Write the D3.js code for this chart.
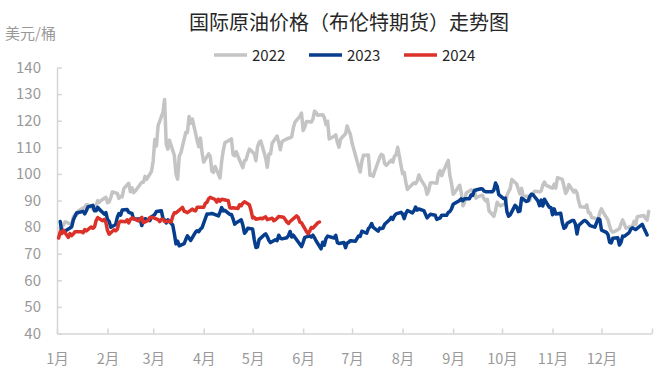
<!DOCTYPE html>
<html>
<head>
<meta charset="utf-8">
<script src="https://cdn.jsdelivr.net/npm/d3@7"></script>
<style>
  html, body { margin: 0; padding: 0; background: #fff; }
  svg { display: block; font-family: "Noto Sans CJK SC", "Microsoft YaHei", sans-serif; }
</style>
</head>
<body>
<svg id="chart" width="666" height="379"></svg>
<script>
// ---------------- DATA ----------------
const title = "国际原油价格（布伦特期货）走势图";
const unitLabel = "美元/桶";
const monthLabels = ["1月","2月","3月","4月","5月","6月","7月","8月","9月","10月","11月","12月"];
const yTicks = [40,50,60,70,80,90,100,110,120,130,140];
const seriesNames = ["2022","2023","2024"];
const seriesColors = ["#c4c4c4","#063d8c","#dc3128"];

const brent2022 = [
["01-03",78.98],["01-04",80.0],["01-05",80.8],["01-06",81.99],["01-07",81.75],["01-10",80.87],["01-11",83.72],["01-12",84.67],["01-13",84.47],["01-14",86.06],["01-18",87.51],["01-19",88.44],["01-20",88.38],["01-21",87.89],["01-24",86.27],["01-25",88.2],["01-26",89.96],["01-27",89.34],["01-28",90.03],["01-31",91.21],
["02-01",89.16],["02-02",89.47],["02-03",91.11],["02-04",93.27],["02-07",92.69],["02-08",90.78],["02-09",91.55],["02-10",91.41],["02-11",94.44],["02-14",96.48],["02-15",93.28],["02-16",94.81],["02-17",92.97],["02-18",93.54],["02-22",96.84],["02-23",96.84],["02-24",99.08],["02-25",97.93],["02-28",100.99],
["03-01",104.97],["03-02",112.93],["03-03",110.46],["03-04",118.11],["03-07",123.21],["03-08",127.98],["03-09",111.14],["03-10",109.33],["03-11",112.67],["03-14",106.9],["03-15",99.91],["03-16",98.02],["03-17",106.64],["03-18",107.93],["03-21",115.62],["03-22",115.48],["03-23",121.6],["03-24",119.03],["03-25",120.65],["03-28",112.48],["03-29",110.23],["03-30",113.45],["03-31",107.91],
["04-01",104.39],["04-04",107.53],["04-05",106.64],["04-06",101.07],["04-07",100.58],["04-08",102.78],["04-11",98.48],["04-12",104.64],["04-13",108.78],["04-14",111.7],["04-18",113.16],["04-19",107.25],["04-20",106.8],["04-21",108.33],["04-22",106.65],["04-25",102.32],["04-26",104.99],["04-27",105.32],["04-28",107.59],["04-29",109.34],
["05-02",107.58],["05-03",104.97],["05-04",110.14],["05-05",111.9],["05-06",112.39],["05-09",105.94],["05-10",102.46],["05-11",107.51],["05-12",107.45],["05-13",111.55],["05-16",114.24],["05-17",111.93],["05-18",109.11],["05-19",112.04],["05-20",112.55],["05-23",113.42],["05-24",113.56],["05-25",114.03],["05-26",117.4],["05-27",119.43],["05-30",121.67],["05-31",122.84],
["06-01",116.29],["06-02",117.61],["06-03",119.72],["06-06",119.51],["06-07",120.57],["06-08",123.58],["06-09",123.07],["06-10",122.01],["06-13",122.27],["06-14",121.17],["06-15",118.51],["06-16",119.81],["06-17",113.12],["06-20",114.13],["06-21",114.65],["06-22",111.74],["06-23",110.05],["06-24",113.12],["06-27",115.09],["06-28",117.98],["06-29",116.26],["06-30",114.81],
["07-01",111.63],["07-05",102.77],["07-06",100.69],["07-07",104.65],["07-08",107.02],["07-11",107.1],["07-12",99.49],["07-13",99.57],["07-14",99.1],["07-15",101.16],["07-18",106.27],["07-19",107.35],["07-20",106.92],["07-21",103.86],["07-22",103.2],["07-25",105.15],["07-26",104.4],["07-27",106.62],["07-28",107.14],["07-29",110.01],
["08-01",100.03],["08-02",100.54],["08-03",96.78],["08-04",94.12],["08-05",94.92],["08-08",96.65],["08-09",96.31],["08-10",97.4],["08-11",99.6],["08-12",98.15],["08-15",95.1],["08-16",92.34],["08-17",93.65],["08-18",96.59],["08-19",96.72],["08-22",96.48],["08-23",100.22],["08-24",101.22],["08-25",99.34],["08-26",100.99],["08-29",105.09],["08-30",99.31],["08-31",96.49],
["09-01",92.36],["09-02",93.02],["09-05",95.74],["09-06",92.83],["09-07",88.0],["09-08",89.15],["09-09",92.84],["09-12",94.0],["09-13",93.17],["09-14",94.1],["09-15",90.84],["09-16",91.35],["09-19",92.0],["09-20",90.62],["09-21",89.83],["09-22",90.46],["09-23",86.15],["09-26",84.06],["09-27",86.27],["09-28",89.32],["09-29",88.49],["09-30",87.96],
["10-03",88.86],["10-04",91.8],["10-05",93.37],["10-06",94.42],["10-07",97.92],["10-10",96.19],["10-11",94.29],["10-12",92.45],["10-13",94.57],["10-14",91.63],["10-17",91.62],["10-18",90.03],["10-19",92.41],["10-20",92.38],["10-21",93.5],["10-24",93.26],["10-25",93.52],["10-26",95.69],["10-27",96.96],["10-28",95.77],["10-31",94.83],
["11-01",94.65],["11-02",96.16],["11-03",94.67],["11-04",98.57],["11-07",97.92],["11-08",95.36],["11-09",92.65],["11-10",93.67],["11-11",95.99],["11-14",93.14],["11-15",93.86],["11-16",92.86],["11-17",89.78],["11-18",87.62],["11-21",87.45],["11-22",88.36],["11-23",85.41],["11-24",85.34],["11-25",83.63],["11-28",83.19],["11-29",83.03],["11-30",85.43],
["12-01",86.88],["12-02",85.57],["12-05",82.68],["12-06",80.35],["12-07",78.6],["12-08",78.1],["12-09",78.3],["12-12",79.4],["12-13",81.2],["12-14",82.7],["12-15",81.21],["12-16",79.6],["12-19",80.2],["12-20",80.3],["12-21",82.2],["12-22",80.98],["12-23",83.92],["12-27",84.33],["12-28",83.26],["12-29",82.6],["12-30",85.91]
];

const brent2023 = [
["01-03",82.1],["01-04",77.84],["01-05",78.69],["01-06",78.57],["01-09",79.65],["01-10",80.1],["01-11",82.67],["01-12",84.03],["01-13",85.28],["01-17",85.92],["01-18",84.98],["01-19",86.16],["01-20",87.63],["01-23",88.19],["01-24",86.13],["01-25",86.12],["01-26",87.47],["01-27",86.66],["01-30",84.9],["01-31",85.46],
["02-01",82.84],["02-02",82.17],["02-03",79.94],["02-06",80.99],["02-07",83.69],["02-08",85.09],["02-09",84.5],["02-10",86.39],["02-13",86.61],["02-14",85.58],["02-15",85.38],["02-16",85.14],["02-17",83.0],["02-21",83.05],["02-22",80.6],["02-23",82.21],["02-24",83.16],["02-27",82.45],["02-28",83.89],
["03-01",84.31],["03-02",84.75],["03-03",85.83],["03-06",86.18],["03-07",83.29],["03-08",82.66],["03-09",81.59],["03-10",82.78],["03-13",80.77],["03-14",77.45],["03-15",73.69],["03-16",74.7],["03-17",72.97],["03-20",73.79],["03-21",75.32],["03-22",76.69],["03-23",75.91],["03-24",74.99],["03-27",78.12],["03-28",78.65],["03-29",78.28],["03-30",79.27],["03-31",79.77],
["04-03",84.93],["04-04",84.94],["04-05",84.99],["04-06",85.12],["04-10",84.18],["04-11",85.61],["04-12",87.33],["04-13",86.09],["04-14",86.31],["04-17",84.76],["04-18",84.77],["04-19",83.12],["04-20",81.1],["04-21",81.66],["04-24",82.73],["04-25",80.77],["04-26",77.69],["04-27",78.37],["04-28",79.54],
["05-01",79.31],["05-02",75.32],["05-03",72.33],["05-04",72.5],["05-05",75.3],["05-08",77.01],["05-09",77.44],["05-10",76.41],["05-11",74.98],["05-12",74.17],["05-15",75.23],["05-16",74.91],["05-17",76.96],["05-18",75.86],["05-19",75.58],["05-22",75.99],["05-23",76.84],["05-24",78.36],["05-25",76.26],["05-26",76.95],["05-30",73.54],["05-31",72.66],
["06-01",74.28],["06-02",76.13],["06-05",76.71],["06-06",76.29],["06-07",76.95],["06-08",75.96],["06-09",74.79],["06-12",71.84],["06-13",74.29],["06-14",73.2],["06-15",75.67],["06-16",76.61],["06-20",75.9],["06-21",76.9],["06-22",74.14],["06-23",73.85],["06-26",74.18],["06-27",72.26],["06-28",74.03],["06-29",74.34],["06-30",74.9],
["07-03",74.65],["07-05",76.65],["07-06",76.52],["07-07",78.47],["07-10",77.69],["07-11",79.4],["07-12",80.11],["07-13",81.36],["07-14",79.87],["07-17",78.5],["07-18",79.63],["07-19",79.46],["07-20",79.64],["07-21",81.07],["07-24",82.74],["07-25",83.64],["07-26",82.92],["07-27",84.24],["07-28",84.99],["07-31",85.56],
["08-01",84.91],["08-02",83.2],["08-03",85.14],["08-04",86.24],["08-07",85.34],["08-08",86.17],["08-09",87.55],["08-10",86.4],["08-11",86.81],["08-14",86.21],["08-15",84.89],["08-16",83.45],["08-17",84.12],["08-18",84.8],["08-21",84.46],["08-22",82.92],["08-23",83.21],["08-24",83.36],["08-25",84.48],["08-28",84.42],["08-29",85.49],["08-30",85.86],["08-31",86.83],
["09-01",88.55],["09-05",90.04],["09-06",90.6],["09-07",89.92],["09-08",90.65],["09-11",90.64],["09-12",92.06],["09-13",91.88],["09-14",93.7],["09-15",93.93],["09-18",94.43],["09-19",94.34],["09-20",93.53],["09-21",93.3],["09-22",93.27],["09-25",93.29],["09-26",93.96],["09-27",96.55],["09-28",95.38],["09-29",92.2],
["10-02",90.71],["10-03",90.92],["10-04",85.81],["10-05",84.07],["10-06",84.58],["10-09",88.15],["10-10",87.65],["10-11",85.82],["10-12",86.0],["10-13",90.89],["10-16",89.65],["10-17",89.9],["10-18",91.5],["10-19",92.38],["10-20",92.16],["10-23",89.83],["10-24",88.07],["10-25",90.13],["10-26",87.93],["10-27",90.48],["10-30",87.45],["10-31",87.41],
["11-01",84.63],["11-02",86.85],["11-03",84.89],["11-06",85.18],["11-07",81.61],["11-08",79.54],["11-09",80.01],["11-10",81.43],["11-13",82.52],["11-14",82.47],["11-15",81.18],["11-16",77.42],["11-17",80.61],["11-20",82.32],["11-21",82.45],["11-22",81.96],["11-24",80.58],["11-27",79.98],["11-28",81.68],["11-29",83.1],["11-30",82.83],
["12-01",78.88],["12-04",78.03],["12-05",77.2],["12-06",74.3],["12-07",74.05],["12-08",75.84],["12-11",76.03],["12-12",73.24],["12-13",74.26],["12-14",76.61],["12-15",76.55],["12-18",77.95],["12-19",79.23],["12-20",79.7],["12-21",79.39],["12-22",79.07],["12-26",81.07],["12-27",79.65],["12-28",78.39],["12-29",77.04]
];

const brent2024 = [
["01-02",75.89],["01-03",78.25],["01-04",77.59],["01-05",78.76],["01-08",76.12],["01-09",77.59],["01-10",76.8],["01-11",77.41],["01-12",78.29],["01-16",78.29],["01-17",77.88],["01-18",79.1],["01-19",78.56],["01-22",80.06],["01-23",79.55],["01-24",80.04],["01-25",82.43],["01-26",83.55],["01-29",82.4],["01-30",82.87],["01-31",81.71],
["02-01",78.7],["02-02",77.33],["02-05",78.99],["02-06",78.59],["02-07",79.21],["02-08",81.63],["02-09",82.19],["02-12",82.0],["02-13",82.77],["02-14",81.6],["02-15",82.86],["02-16",83.47],["02-20",82.34],["02-21",83.03],["02-22",83.67],["02-23",81.62],["02-26",82.53],["02-27",83.65],["02-28",83.68],
["03-01",83.55],["03-04",82.8],["03-05",82.04],["03-06",82.96],["03-07",82.96],["03-08",82.08],["03-11",82.21],["03-12",81.92],["03-13",84.03],["03-14",85.42],["03-15",85.34],["03-18",86.89],["03-19",87.38],["03-20",85.95],["03-21",85.78],["03-22",85.43],["03-25",86.75],["03-26",86.25],["03-27",86.09],["03-28",87.48],
["04-01",87.42],["04-02",88.92],["04-03",89.35],["04-04",90.65],["04-05",91.17],["04-08",90.38],["04-09",89.42],["04-10",90.48],["04-11",89.74],["04-12",90.45],["04-15",90.1],["04-16",90.02],["04-17",87.29],["04-18",87.11],["04-19",87.29],["04-22",87.0],["04-23",88.42],["04-24",88.02],["04-25",89.01],["04-26",89.5],["04-29",88.4],["04-30",86.33],
["05-01",83.44],["05-02",83.67],["05-03",82.96],["05-06",83.33],["05-07",83.16],["05-08",83.58],["05-09",83.88],["05-10",82.79],["05-13",83.36],["05-14",82.38],["05-15",82.75],["05-16",83.27],["05-17",83.98],["05-20",83.71],["05-21",82.88],["05-22",81.9],["05-23",81.36],["05-24",82.12],["05-28",84.22],["05-29",83.6],["05-30",81.86],["05-31",81.62],
["06-03",78.36],["06-04",77.52],["06-05",78.41],["06-06",79.87],["06-07",79.62],["06-10",81.63],["06-11",81.92]
];

// ---------------- CHART ----------------
const svg = d3.select("#chart");
const W = 666, H = 379;
const plot = { left: 57, right: 652, top: 67.5, bottom: 333.5 };
const baseYear = 2023; // non-leap reference year for month/day axis
const parse = s => new Date(baseYear, +s.slice(0,2) - 1, +s.slice(3,5));

const x = d3.scaleTime()
  .domain([new Date(baseYear, 0, 1), new Date(baseYear + 1, 0, 1)])
  .range([plot.left, plot.right]);
const y = d3.scaleLinear()
  .domain([40, 140])
  .range([plot.bottom, plot.top]);

svg.append("rect").attr("width", W).attr("height", H).attr("fill", "#fff");

// Title
svg.append("text")
  .attr("x", 349).attr("y", 30)
  .attr("text-anchor", "middle")
  .attr("font-size", 20)
  .attr("fill", "#262626")
  .text(title);

// Unit
svg.append("text")
  .attr("x", 5).attr("y", 39)
  .attr("font-size", 15)
  .attr("fill", "#999")
  .text(unitLabel);

// Legend
const legendX = [214, 309, 404];
const legend = svg.append("g");
seriesNames.forEach((name, i) => {
  legend.append("line")
    .attr("x1", legendX[i]).attr("x2", legendX[i] + 33)
    .attr("y1", 55).attr("y2", 55)
    .attr("stroke", seriesColors[i]).attr("stroke-width", 3.5);
  legend.append("text")
    .attr("x", legendX[i] + 38).attr("y", 60.5)
    .attr("font-size", 15)
    .attr("fill", "#262626")
    .text(name);
});

// Axes
const axisColor = "#d6d6d6";
const labelColor = "#999";

const monthTicks = d3.range(13).map(m => new Date(baseYear, m, 1));
const xAxis = d3.axisBottom(x)
  .tickValues(monthTicks)
  .tickFormat((d, i) => monthLabels[i] || "")
  .tickSizeInner(-5)
  .tickSizeOuter(0)
  .tickPadding(20);
const gx = svg.append("g")
  .attr("transform", `translate(0,${plot.bottom})`)
  .call(xAxis);
gx.select(".domain").attr("stroke", axisColor).attr("stroke-width", 1.5);
gx.selectAll(".tick line").attr("stroke", axisColor).attr("stroke-width", 1.5);
gx.selectAll(".tick text")
  .attr("fill", labelColor)
  .attr("font-size", 14.5)
  .attr("font-family", "'Noto Sans CJK SC', sans-serif");

const yAxis = d3.axisLeft(y)
  .tickValues(yTicks)
  .tickSizeInner(-5)
  .tickSizeOuter(0)
  .tickPadding(16);
const gy = svg.append("g")
  .attr("transform", `translate(${plot.left},0)`)
  .call(yAxis);
gy.select(".domain").attr("stroke", axisColor).attr("stroke-width", 1.5);
gy.selectAll(".tick line").attr("stroke", axisColor).attr("stroke-width", 1.5);
gy.selectAll(".tick text")
  .attr("fill", labelColor)
  .attr("font-size", 15)
  .attr("font-family", "'Noto Sans CJK SC', sans-serif");

// Lines
const line = d3.line()
  .x(d => x(parse(d[0])))
  .y(d => y(d[1]));

[brent2022, brent2023, brent2024].forEach((data, i) => {
  svg.append("path")
    .datum(data)
    .attr("fill", "none")
    .attr("stroke", seriesColors[i])
    .attr("stroke-width", 3.5)
    .attr("stroke-linejoin", "round")
    .attr("stroke-linecap", "round")
    .attr("d", line);
});
</script>
</body>
</html>
